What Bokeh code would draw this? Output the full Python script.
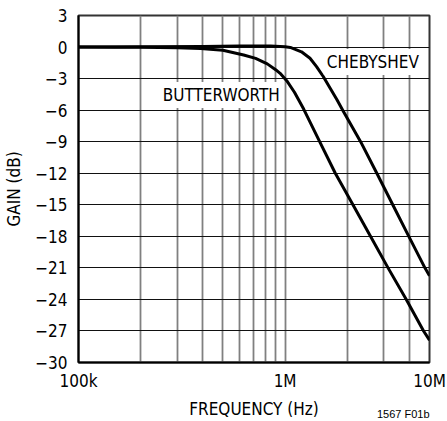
from bokeh.plotting import figure
from bokeh.models import Range1d, FixedTicker, Label, Title
from bokeh.embed import file_html
from bokeh.resources import INLINE

# ---- data ----
cheb_freq = [1e5, 2e5, 4e5, 6e5, 8.5e5, 1.0e6, 1.06e6, 1.2e6, 1.32e6, 1.42e6, 1.53e6,
             1.65e6, 1.78e6, 1.91e6, 2.32e6, 2.78e6, 3.32e6, 3.97e6, 4.75e6, 5e6]
cheb_gain = [0.0, 0.02, 0.06, 0.1, 0.11, 0.02, -0.04, -0.45, -1.07, -1.86, -2.8,
             -3.89, -4.99, -6.09, -9.0, -12.0, -15.0, -18.0, -21.0, -21.76]

butt_freq = [1e5, 1.5e5, 2e5, 3e5, 3.9e5, 5e5, 6.3e5, 7.2e5, 8.2e5, 9.0e5, 9.46e5,
             1.018e6, 1.11e6, 1.23e6, 1.47e6, 1.75e6, 2.13e6, 2.59e6, 3.15e6, 3.86e6,
             4.68e6, 5e6]
butt_gain = [0.0, -0.01, -0.03, -0.07, -0.13, -0.3, -0.76, -1.08, -1.6, -2.15, -2.5,
             -3.2, -4.3, -5.9, -9.0, -12.0, -15.0, -18.0, -21.0, -24.0,
             -27.0, -27.87]

x_ticks = [100000, 1000000, 5000000]
x_tick_labels = ["100k", "1M", "10M"]
x_grid = [200000, 300000, 400000, 500000, 600000, 700000, 800000, 900000,
          1000000, 2000000, 3000000, 4000000]
y_ticks = [-30, -27, -24, -21, -18, -15, -12, -9, -6, -3, 0, 3]

FONT = "DejaVu Sans Condensed"
FS = "17px"

p = figure(width=447, height=421, x_axis_type="log",
           x_range=Range1d(1e5, 5e6), y_range=Range1d(-30, 3),
           output_backend="svg", toolbar_location=None,
           min_border_left=78, min_border_right=18,
           min_border_top=15, min_border_bottom=55)
p.background_fill_color = "white"
p.border_fill_color = "white"
p.outline_line_color = "#333333"
p.outline_line_width = 2

# grids
p.xgrid.ticker = FixedTicker(ticks=x_grid)
p.xgrid.grid_line_color = "#808080"
p.xgrid.grid_line_width = 1.8
p.ygrid.ticker = FixedTicker(ticks=y_ticks[1:-1])
p.ygrid.grid_line_color = "#111111"
p.ygrid.grid_line_width = 1.1

# axes
for ax in (p.xaxis[0], p.yaxis[0]):
    ax.axis_line_color = "black"
    ax.axis_line_width = 2
    ax.major_tick_in = 0
    ax.major_tick_out = 0
    ax.minor_tick_in = 0
    ax.minor_tick_out = 0
    ax.major_label_text_font = FONT
    ax.major_label_text_font_size = FS
    ax.major_label_text_color = "black"
    ax.axis_label_text_font = FONT
    ax.axis_label_text_font_size = FS
    ax.axis_label_text_font_style = "normal"
    ax.axis_label_text_color = "black"

p.xaxis.ticker = FixedTicker(ticks=x_ticks)
p.xaxis.major_label_overrides = {t: l for t, l in zip(x_ticks, x_tick_labels)}
p.xaxis.major_label_standoff = 8
p.xaxis.axis_label = "FREQUENCY (Hz)"
p.xaxis.axis_label_standoff = 5

p.yaxis.ticker = FixedTicker(ticks=y_ticks)
p.yaxis.major_label_overrides = {t: str(t).replace("-", "\u2212") for t in y_ticks}
p.yaxis.major_label_standoff = 11
p.yaxis.axis_label = "GAIN (dB)"
p.yaxis.axis_label_standoff = 8

# curves
p.line(cheb_freq, cheb_gain, line_color="black", line_width=3, line_join="round")
p.line(butt_freq, butt_gain, line_color="black", line_width=3, line_join="round")

# curve labels
for x, y, txt in [(4.91e5, -4.57, "BUTTERWORTH"), (2.66e6, -1.42, "CHEBYSHEV")]:
    p.add_layout(Label(x=x, y=y, text=txt, text_align="center", text_baseline="middle",
                       text_font=FONT, text_font_size=FS, text_color="black",
                       background_fill_color="white", padding=3))

p.add_layout(Title(text="1567 F01b", align="right", vertical_align="top",
                   standoff=-27, text_font="Liberation Sans", text_font_size="11px",
                   text_font_style="normal", text_color="black"), "below")

open("out.html", "w").write(file_html(p, INLINE))
